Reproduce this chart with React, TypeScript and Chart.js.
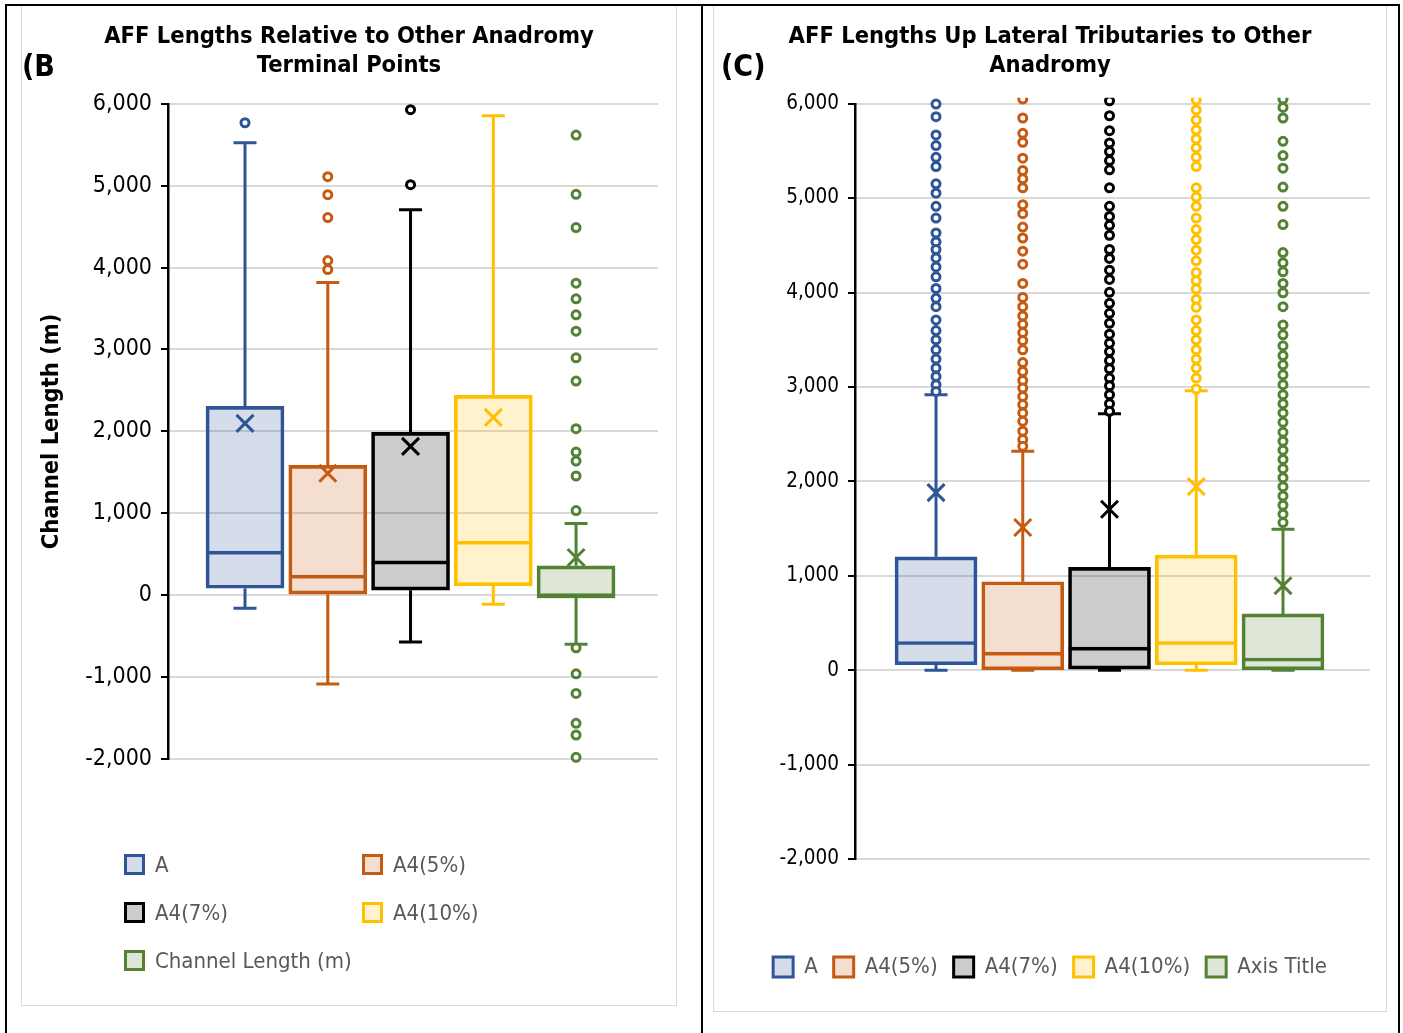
import React, { useEffect, useRef } from 'react';
import { Chart, registerables } from 'chart.js';

Chart.register(...registerables);

const FONT = '"DejaVu Sans Condensed", "DejaVu Sans", sans-serif';

// ---------- shared series styling ----------
const seriesNamesB = ['A', 'A4(5%)', 'A4(7%)', 'A4(10%)', 'Channel Length (m)'];
const seriesNamesC = ['A', 'A4(5%)', 'A4(7%)', 'A4(10%)', 'Axis Title'];
const lineColors = ['#2F5597', '#C55A11', '#000000', '#FFC000', '#548235'];
const fillColors = [
  'rgba(47,85,151,0.2)',
  'rgba(197,90,17,0.2)',
  'rgba(0,0,0,0.2)',
  'rgba(255,192,0,0.2)',
  'rgba(84,130,53,0.2)',
];

// ---------- panel (B) ----------
const titleB = ['AFF Lengths Relative to Other Anadromy', 'Terminal Points'];
const yTitleB = 'Channel Length (m)';
const bQ1 = [85, 12, 61, 113, -33];
const bMedian = [537, 244, 418, 659, 20];
const bQ3 = [2305, 1585, 1988, 2439, 358];
const bMean = [2098, 1488, 1817, 2171, 460];
const bWhiskerLow = [-159, -1085, -573, -110, -598];
const bWhiskerHigh = [5524, 3817, 4707, 5854, 874];
const bOutliersA = [5768];
const bOutliers5 = [5110, 4890, 4610, 4085, 3976];
const bOutliers7 = [5927, 5012];
const bOutliers10: number[] = [];
const bOutliersCL = [
  5618, 4894, 4488, 3809, 3618, 3423, 3223, 2898, 2614, 2033, 1748, 1638, 1455, 1033,
  -642, -960, -1199, -1565, -1707, -1979,
];

// ---------- panel (C) ----------
const titleC = ['AFF Lengths Up Lateral Tributaries to Other', 'Anadromy'];
const cQ1 = [58, 5, 0, 58, 5];
const cMedian = [304, 192, 245, 304, 129];
const cQ3 = [1201, 937, 1089, 1219, 596];
const cMean = [1881, 1511, 1705, 1944, 895];
const cWhiskerLow = [0, 0, 0, 0, 0];
const cWhiskerHigh = [2918, 2320, 2715, 2960, 1493];
const cOutliersA = [
  5997, 5863, 5670, 5557, 5433, 5335, 5152, 5053, 4913, 4789, 4631, 4536, 4456, 4367,
  4272, 4167, 4044, 3939, 3850, 3710, 3597, 3499, 3393, 3295, 3200, 3111, 3024, 2953,
];
const cOutliers5 = [
  6050, 5849, 5687, 5592, 5423, 5293, 5205, 5110, 4931, 4836, 4694, 4578, 4438, 4301,
  4097, 3949, 3850, 3752, 3664, 3576, 3491, 3393, 3259, 3164, 3069, 2989, 2900, 2813,
  2725, 2636, 2531, 2443, 2373,
];
const cOutliers7 = [
  6031, 5873, 5715, 5585, 5493, 5398, 5300, 5110, 4913, 4807, 4712, 4607, 4456, 4361,
  4237, 4139, 4002, 3886, 3780, 3675, 3559, 3464, 3375, 3280, 3193, 3094, 3013, 2918,
  2823, 2742,
];
const cOutliers10 = [
  6040, 5934, 5828, 5722, 5627, 5533, 5433, 5335, 5110, 5011, 4913, 4789, 4667, 4561,
  4449, 4336, 4213, 4125, 4037, 3928, 3844, 3710, 3597, 3499, 3393, 3295, 3200, 3094,
  2978,
];
const cOutliersCL = [
  6050, 5961, 5849, 5602, 5451, 5317, 5117, 4913, 4720, 4424, 4315, 4220, 4097, 3998,
  3850, 3657, 3552, 3436, 3333, 3235, 3129, 3024, 2918, 2823, 2725, 2626, 2520, 2425,
  2330, 2232, 2134, 2039, 1944, 1845, 1747, 1652, 1564,
];

type BoxSpec = {
  names: string[];
  q1: number[];
  med: number[];
  q3: number[];
  mean: number[];
  wlo: number[];
  whi: number[];
  outliers: number[][];
  boxWidth: number;
};

function buildDatasets(s: BoxSpec) {
  const ds: any[] = [];
  s.names.forEach((name, i) => {
    const x = i + 1;
    const c = lineColors[i];
    ds.push({
      type: 'bar',
      label: name,
      isBox: true,
      data: [{ x, y: [s.q1[i], s.q3[i]] }],
      backgroundColor: fillColors[i],
      borderColor: c,
      borderWidth: 3,
      borderSkipped: false,
      barThickness: s.boxWidth,
      grouped: false,
      order: 5,
    });
    ds.push({
      type: 'bar',
      label: name + ' median',
      data: [{ x, y: [s.q1[i], s.med[i]] }],
      backgroundColor: 'rgba(0,0,0,0)',
      borderColor: c,
      borderWidth: { top: 3, left: 0, right: 0, bottom: 0 },
      borderSkipped: false,
      barThickness: s.boxWidth,
      grouped: false,
      order: 4,
    });
    ds.push({
      type: 'line',
      label: name + ' whiskers',
      data: [
        { x, y: s.wlo[i] },
        { x, y: s.q1[i] },
        { x, y: null },
        { x, y: s.q3[i] },
        { x, y: s.whi[i] },
      ],
      borderColor: c,
      borderWidth: 3,
      spanGaps: false,
      pointStyle: 'line',
      pointRadius: [11.5, 0, 0, 0, 11.5],
      pointHoverRadius: [11.5, 0, 0, 0, 11.5],
      pointBorderWidth: 3,
      pointBorderColor: c,
      order: 3,
    });
    ds.push({
      type: 'line',
      label: name + ' mean',
      data: [{ x, y: s.mean[i] }],
      showLine: false,
      pointStyle: 'crossRot',
      pointRadius: 12,
      pointHoverRadius: 12,
      pointBorderWidth: 3,
      pointBorderColor: c,
      pointBackgroundColor: 'rgba(0,0,0,0)',
      order: 2,
    });
    ds.push({
      type: 'line',
      label: name + ' outliers',
      data: s.outliers[i].map((v) => ({ x, y: v })),
      showLine: false,
      pointStyle: 'circle',
      pointRadius: 4,
      pointHoverRadius: 4,
      pointBorderWidth: 3,
      pointBorderColor: c,
      pointBackgroundColor: '#ffffff',
      order: 1,
      clip: { left: false, right: false, top: 6, bottom: false },
    });
  });
  return ds;
}

const fmt = (v: any) => Number(v).toLocaleString('en-US');

type PanelProps = {
  spec: BoxSpec;
  title: string[];
  yTitle?: string;
  width: number;
  height: number;
  xMin: number;
  xMax: number;
  yAxisWidth: number;
  rightPad: number;
  xAxisHeight: number;
  tickSize: number;
  showLegend: boolean;
  bottomPad: number;
};

function BoxChart(p: PanelProps) {
  const ref = useRef<HTMLCanvasElement | null>(null);
  useEffect(() => {
    if (!ref.current) return;
    const chart = new Chart(ref.current, {
      type: 'bar',
      data: { datasets: buildDatasets(p.spec) as any },
      options: {
        animation: false,
        responsive: false,
        devicePixelRatio: 1,
        events: [],
        layout: { padding: { left: 0, right: 0, top: 0, bottom: p.bottomPad } },
        plugins: {
          title: {
            display: true,
            text: p.title,
            color: '#000',
            font: { family: FONT, size: 23.5, weight: 'bold', lineHeight: 1.25 },
            padding: { top: 15, bottom: 23 },
          },
          legend: {
            display: p.showLegend,
            position: 'bottom',
            labels: {
              boxWidth: 20,
              boxHeight: 20,
              padding: 16,
              color: '#595959',
              font: { family: FONT, size: 22 },
              filter: (item: any, data: any) => !!data.datasets[item.datasetIndex].isBox,
            },
          },
          tooltip: { enabled: false },
        },
        scales: {
          x: {
            type: 'linear',
            offset: false,
            min: p.xMin,
            max: p.xMax,
            grid: { display: false, drawTicks: false, offset: false },
            border: { display: false },
            ticks: { display: false },
            afterFit: (s: any) => {
              s.height = p.xAxisHeight;
            },
          },
          y: {
            type: 'linear',
            position: 'left',
            min: -2000,
            max: 6000,
            ticks: {
              stepSize: 1000,
              callback: fmt,
              color: '#000',
              font: { family: FONT, size: p.tickSize },
              padding: 9,
            },
            grid: {
              color: '#d9d9d9',
              lineWidth: 2,
              tickColor: '#000',
              tickLength: 7,
              tickWidth: 2,
            },
            border: { display: true, color: '#000', width: 2.5 },
            title: {
              display: !!p.yTitle,
              text: p.yTitle || '',
              color: '#000',
              font: { family: FONT, size: 23.5, weight: 'bold' },
              padding: { top: 17, bottom: 0 },
            },
            afterFit: (s: any) => {
              s.width = p.yAxisWidth;
            },
          },
          yRightSpacer: {
            type: 'linear',
            position: 'right',
            display: true,
            grid: { display: false, drawTicks: false },
            border: { display: false },
            ticks: { display: false },
            afterFit: (s: any) => {
              s.width = p.rightPad;
            },
          },
        },
      } as any,
    });
    return () => chart.destroy();
  }, []);
  return <canvas ref={ref} width={p.width} height={p.height} style={{ display: 'block' }} />;
}

const specB: BoxSpec = {
  names: seriesNamesB,
  q1: bQ1,
  med: bMedian,
  q3: bQ3,
  mean: bMean,
  wlo: bWhiskerLow,
  whi: bWhiskerHigh,
  outliers: [bOutliersA, bOutliers5, bOutliers7, bOutliers10, bOutliersCL],
  boxWidth: 78,
};

const specC: BoxSpec = {
  names: seriesNamesC,
  q1: cQ1,
  med: cMedian,
  q3: cQ3,
  mean: cMean,
  wlo: cWhiskerLow,
  whi: cWhiskerHigh,
  outliers: [cOutliersA, cOutliers5, cOutliers7, cOutliers10, cOutliersCL],
  boxWidth: 82,
};

function LegendItem({ i, name, left, top }: { i: number; name: string; left: number; top: number }) {
  return (
    <div style={{ position: 'absolute', left, top, height: 24, display: 'flex', alignItems: 'center' }}>
      <div
        style={{
          width: 21,
          height: 21,
          boxSizing: 'border-box',
          border: `3px solid ${lineColors[i]}`,
          background: fillColors[i],
          marginRight: 10,
        }}
      />
      <span style={{ font: `22px ${FONT}`, color: '#595959', whiteSpace: 'nowrap' }}>{name}</span>
    </div>
  );
}

const legendPosB = [
  [124, 852],
  [362, 852],
  [124, 900],
  [362, 900],
  [124, 948],
];

export default function App() {
  const black = '#000';
  return (
    <div style={{ position: 'absolute', left: 0, top: 0, width: 1403, height: 1033, background: '#fff', overflow: 'hidden' }}>
      {/* panel frames */}
      <div style={{ position: 'absolute', left: 21, top: 5, width: 656, height: 1001, border: '1px solid #d9d9d9', boxSizing: 'border-box' }} />
      <div style={{ position: 'absolute', left: 713, top: 5, width: 674, height: 1007, border: '1px solid #d9d9d9', boxSizing: 'border-box' }} />
      {/* charts */}
      <div style={{ position: 'absolute', left: 21, top: 7 }}>
        <BoxChart
          spec={specB}
          title={titleB}
          yTitle={yTitleB}
          width={656}
          height={999}
          xMin={0.0695}
          xMax={5.99}
          yAxisWidth={147}
          rightPad={19}
          xAxisHeight={247}
          tickSize={23}
          showLegend={false}
          bottomPad={0}
        />
      </div>
      <div style={{ position: 'absolute', left: 713, top: 7 }}>
        <BoxChart
          spec={specC}
          title={titleC}
          width={674}
          height={1005}
          xMin={0.066}
          xMax={6.003}
          yAxisWidth={142}
          rightPad={17}
          xAxisHeight={81}
          tickSize={20.5}
          showLegend={true}
          bottomPad={24}
        />
      </div>
      {/* legend (B) */}
      {seriesNamesB.map((n, i) => (
        <LegendItem key={n} i={i} name={n} left={legendPosB[i][0]} top={legendPosB[i][1]} />
      ))}
      {/* panel letters */}
      <div style={{ position: 'absolute', left: 22, top: 48, font: `bold 30px ${FONT}`, color: black }}>(B</div>
      <div style={{ position: 'absolute', left: 721, top: 48, font: `bold 30px ${FONT}`, color: black }}>(C)</div>
      {/* table borders */}
      <div style={{ position: 'absolute', left: 5, top: 4, width: 1395, height: 2, background: black }} />
      <div style={{ position: 'absolute', left: 5, top: 4, width: 2, height: 1029, background: black }} />
      <div style={{ position: 'absolute', left: 701, top: 4, width: 2, height: 1029, background: black }} />
      <div style={{ position: 'absolute', left: 1398, top: 4, width: 2, height: 1029, background: black }} />
    </div>
  );
}
